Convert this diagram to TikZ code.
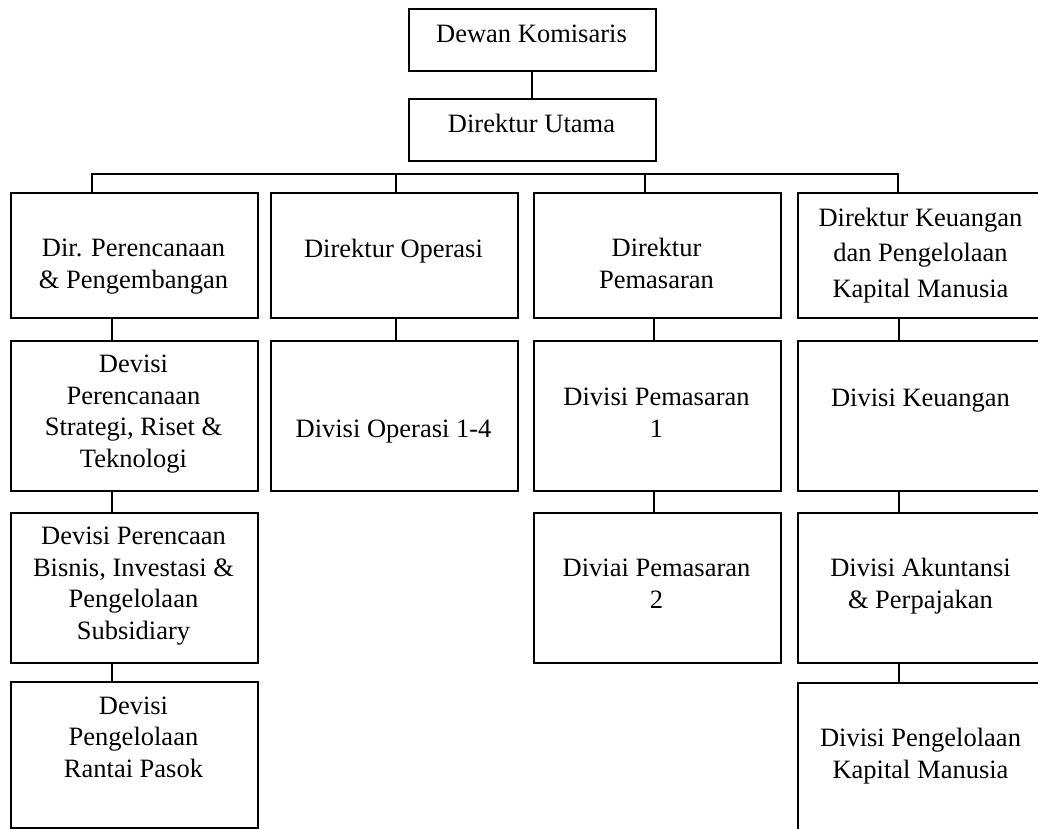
\documentclass[tikz,border=0pt]{standalone}
\usepackage{fontspec}
\setmainfont{Liberation Serif}
\begin{document}
\begin{tikzpicture}[x=1pt,y=-1pt,
  box/.style={draw, line width=1.6pt, rectangle, inner sep=0pt,
              minimum width=247pt, anchor=north west},
  txt/.style={anchor=base, align=center, inner sep=0pt,
              font=\fontsize{26.5}{31.5}\selectfont},
  widetxt/.style={txt, font=\fontsize{26.5}{35.5}\selectfont},
  link/.style={line width=1.6pt}]
\useasboundingbox (0,0) rectangle (1038,829);
\clip (0,0) rectangle (1038,829);

% top of the hierarchy (text nodes placed by the baseline of their last line)
\node[box, minimum height=62pt] (dk) at (408,8) {};
\node[box, minimum height=62pt] (du) at (408,98) {};
\node[txt] (tdk) at (531.5,43) {Dewan Komisaris};
\node[txt] (tdu) at (531.5,133) {Direktur Utama};

% directors
\node[box, minimum height=125pt] (c1r1) at (10,192) {};
\node[box, minimum height=125pt] (c2r1) at (270,192) {};
\node[box, minimum height=125pt] (c3r1) at (533,192) {};
\node[box, minimum height=125pt] (c4r1) at (797,192) {};
\node[txt] (tc1r1) at (133.5,288) {Dir. Perencanaan\\\& Pengembangan};
\node[txt] (tc2r1) at (393.5,257) {Direktur Operasi};
\node[txt] (tc3r1) at (656.5,288) {Direktur\\Pemasaran};
\node[widetxt] (tc4r1) at (920.5,297) {Direktur Keuangan\\dan Pengelolaan\\Kapital Manusia};

% second level divisions
\node[box, minimum height=150pt] (c1r2) at (10,340) {};
\node[box, minimum height=150pt] (c2r2) at (270,340) {};
\node[box, minimum height=150pt] (c3r2) at (533,340) {};
\node[box, minimum height=150pt] (c4r2) at (797,340) {};
\node[txt] (tc1r2) at (133.5,467) {Devisi\\Perencanaan\\Strategi, Riset \&\\Teknologi};
\node[txt] (tc2r2) at (393.5,437) {Divisi Operasi 1-4};
\node[txt] (tc3r2) at (656.5,437) {Divisi Pemasaran\\1};
\node[txt] (tc4r2) at (920.5,406) {Divisi Keuangan};

% third level divisions
\node[box, minimum height=150pt] (c1r3) at (10,512) {};
\node[box, minimum height=150pt] (c3r3) at (533,512) {};
\node[box, minimum height=150pt] (c4r3) at (797,512) {};
\node[txt] (tc1r3) at (133.5,639) {Devisi Perencaan\\Bisnis, Investasi \&\\Pengelolaan\\Subsidiary};
\node[txt] (tc3r3) at (656.5,608) {Diviai Pemasaran\\2};
\node[txt] (tc4r3) at (920.5,608) {Divisi Akuntansi\\\& Perpajakan};

% fourth level divisions
\node[box, minimum height=146pt] (c1r4) at (10,681) {};
\node[box, minimum height=170pt] (c4r4) at (797,682) {};
\node[txt] (tc1r4) at (133.5,777) {Devisi\\Pengelolaan\\Rantai Pasok};
\node[txt] (tc4r4) at (920.5,778) {Divisi Pengelolaan\\Kapital Manusia};

% connector columns
\coordinate (x1) at (112,0);
\coordinate (x2) at (396,0);
\coordinate (x3) at (654,0);
\coordinate (x4) at (899,0);
\coordinate (xt) at (532,0);

% board to president director
\draw[link] (dk.south -| xt) -- (du.north -| xt);

% horizontal bus feeding the directors
\coordinate (busL) at (92,174);
\coordinate (bus2) at (396,174);
\coordinate (bus3) at (645,174);
\coordinate (busR) at (898,174);
\draw[link] (c1r1.north -| busL) -- (busL) -- (busR) -- (c4r1.north -| busR);
\draw[link] (bus2) -- (c2r1.north -| bus2);
\draw[link] (bus3) -- (c3r1.north -| bus3);

% vertical links inside each column
\draw[link] (c1r1.south -| x1) -- (c1r2.north -| x1);
\draw[link] (c1r2.south -| x1) -- (c1r3.north -| x1);
\draw[link] (c1r3.south -| x1) -- (c1r4.north -| x1);
\draw[link] (c2r1.south -| x2) -- (c2r2.north -| x2);
\draw[link] (c3r1.south -| x3) -- (c3r2.north -| x3);
\draw[link] (c3r2.south -| x3) -- (c3r3.north -| x3);
\draw[link] (c4r1.south -| x4) -- (c4r2.north -| x4);
\draw[link] (c4r2.south -| x4) -- (c4r3.north -| x4);
\draw[link] (c4r3.south -| x4) -- (c4r4.north -| x4);
\end{tikzpicture}
\end{document}
